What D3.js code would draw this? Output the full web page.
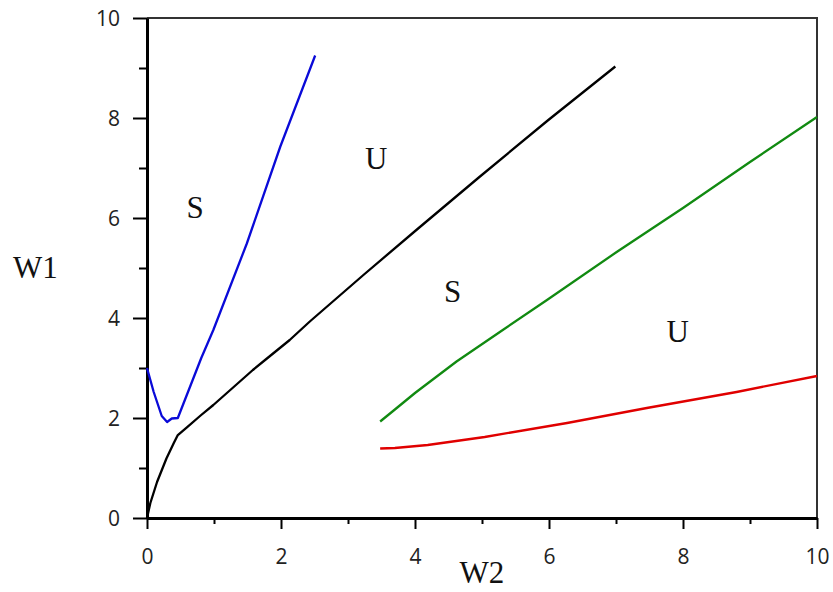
<!DOCTYPE html>
<html>
<head>
<meta charset="utf-8">
<script src="https://cdn.jsdelivr.net/npm/d3@7/dist/d3.min.js"></script>
<style>
  body { margin: 0; background: #fff; }
  svg { display: block; }
  .tick text { font-family: "Open Sans", "DejaVu Sans", sans-serif; font-size: 21px; fill: #222; }
  .lbl { font-family: "Liberation Serif", "Times New Roman", serif; font-size: 31px; fill: #111; }
</style>
</head>
<body>
<svg id="chart" width="833" height="592"></svg>
<script>
// curves, [W2, W1]
var blueCurve = [[0, 3.0], [0.1, 2.52], [0.22, 2.04], [0.3, 1.92], [0.37, 1.99], [0.46, 2.0],
                 [0.81, 3.2], [0.99, 3.76], [1.49, 5.49], [1.99, 7.43], [2.51, 9.25]];
var blackCurve = [[0, 0], [0.05, 0.3], [0.15, 0.72], [0.29, 1.19], [0.4, 1.5], [0.46, 1.66],
                  [0.6, 1.82], [0.8, 2.05], [0.99, 2.26], [1.58, 2.96], [1.79, 3.19], [2.13, 3.56],
                  [2.43, 3.93], [3.23, 4.86], [4.02, 5.76], [4.97, 6.83], [5.99, 7.96], [6.99, 9.03]];
var greenCurve = [[3.48, 1.93], [3.7, 2.17], [4.0, 2.5], [4.62, 3.13], [5.31, 3.76], [5.97, 4.36],
                  [7.01, 5.32], [8.0, 6.2], [9.0, 7.12], [10, 8.02]];
var redCurve = [[3.48, 1.39], [3.7, 1.4], [4.19, 1.46], [5.04, 1.62], [6.27, 1.9], [7.46, 2.2],
                [8.8, 2.52], [10, 2.84]];
var regionLabels = [["S", 0.72, 6.0], ["U", 3.42, 6.98], ["S", 4.56, 4.32], ["U", 7.92, 3.52]];
var majorTicks = [0, 2, 4, 6, 8, 10];
var minorTicks = [1, 3, 5, 7, 9];

var svg = d3.select("#chart");
var x = d3.scaleLinear().domain([0, 10]).range([147, 817]);
var y = d3.scaleLinear().domain([0, 10]).range([518, 18]);

// top and right frame
svg.append("path")
   .attr("d", "M" + x(0) + "," + y(10) + "H" + x(10) + "V" + y(0))
   .attr("fill", "none").attr("stroke", "#333").attr("stroke-width", 2);

// minor ticks first (no labels)
svg.append("g").attr("transform", "translate(0," + y(0) + ")")
   .call(d3.axisBottom(x).tickValues(minorTicks).tickSize(6).tickFormat(""))
   .call(g => g.select(".domain").remove())
   .selectAll("line").attr("stroke", "#000").attr("stroke-width", 2);
svg.append("g").attr("transform", "translate(" + x(0) + ",0)")
   .call(d3.axisLeft(y).tickValues(minorTicks).tickSize(8).tickFormat(""))
   .call(g => g.select(".domain").remove())
   .selectAll("line").attr("stroke", "#000").attr("stroke-width", 2);

// major ticks
var xAxis = svg.append("g").attr("transform", "translate(0," + y(0) + ")")
   .call(d3.axisBottom(x).tickValues(majorTicks).tickSize(11).tickPadding(16).tickSizeOuter(0));
var yAxis = svg.append("g").attr("transform", "translate(" + x(0) + ",0)")
   .call(d3.axisLeft(y).tickValues(majorTicks).tickSize(14).tickPadding(13).tickSizeOuter(0));
[xAxis, yAxis].forEach(function(a) {
    a.select(".domain").attr("stroke", "#000").attr("stroke-width", 3);
    a.selectAll(".tick line").attr("stroke", "#000").attr("stroke-width", 2);
});
xAxis.selectAll(".tick text").attr("dy", "0.9em");
yAxis.selectAll(".tick text").attr("dy", "0.38em");

var line = d3.line().x(d => x(d[0])).y(d => y(d[1]));
[[blueCurve, "#0a0ad8"], [blackCurve, "#000"], [greenCurve, "#118a11"], [redCurve, "#e00000"]]
  .forEach(function(c) {
    svg.append("path").datum(c[0])
       .attr("d", line)
       .attr("fill", "none")
       .attr("stroke", c[1])
       .attr("stroke-width", 2.3)
       .attr("stroke-linejoin", "round");
  });

svg.selectAll("text.region").data(regionLabels).enter().append("text")
   .attr("class", "lbl region")
   .attr("x", d => x(d[1])).attr("y", d => y(d[2]))
   .attr("text-anchor", "middle")
   .text(d => d[0]);

svg.append("text").attr("class", "lbl").attr("x", 13).attr("y", 278).text("W1");
svg.append("text").attr("class", "lbl").attr("x", x(5)).attr("y", 583)
   .attr("text-anchor", "middle").text("W2");
</script>
</body>
</html>
